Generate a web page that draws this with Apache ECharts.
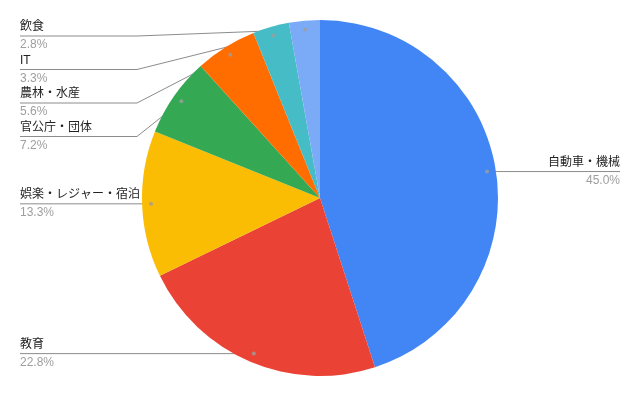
<!DOCTYPE html>
<html>
<head>
<meta charset="utf-8">
<script src="https://cdn.jsdelivr.net/npm/echarts@6/dist/echarts.min.js"></script>
<style>html,body{margin:0;padding:0;background:#fff}#c{width:640px;height:396px}</style>
</head>
<body>
<div id="c"></div>
<script>
const categories = ['自動車・機械', '教育', '娯楽・レジャー・宿泊', '官公庁・団体', '農林・水産', 'IT', '飲食'];
const values = [45.0, 22.8, 13.3, 7.2, 5.6, 3.3, 2.8];
const colors = ['#4285F4', '#EA4335', '#FBBC04', '#34A853', '#FF6D01', '#46BDC6', '#7BAAF7'];

const CX = 320, CY = 198, R = 178, DOT = 0.95;
const LEFT_X = 20, RIGHT_X = 620, BEND_X = 137, SPACING = 33.5, TOP = 36;
const FONT = "'Liberation Sans', Arial, 'Noto Sans CJK JP', sans-serif";

const total = values.reduce((a, b) => a + b, 0);
let cum = 0;
const midPct = values.map(v => { const m = cum + v / 2; cum += v; return m / total * 100; });
const anchors = midPct.map(p => {
  const t = p / 100 * 2 * Math.PI;
  return [CX + DOT * R * Math.sin(t), CY - DOT * R * Math.cos(t)];
});
// vertical placement of label lines
const lineY = anchors.map(a => a[1]);
const leftIdx = anchors.map((a, i) => i).filter(i => anchors[i][0] < CX).sort((a, b) => anchors[a][1] - anchors[b][1]);
let prev = -Infinity;
leftIdx.forEach(i => {
  let y = Math.max(anchors[i][1], prev + SPACING, TOP);
  lineY[i] = y; prev = y;
});

const chart = echarts.init(document.getElementById('c'), null, { renderer: 'canvas' });
chart.setOption({
  animation: false,
  backgroundColor: '#fff',
  polar: { center: [CX, CY], radius: R },
  angleAxis: { type: 'value', min: 0, max: 100, startAngle: 90, clockwise: true, show: false },
  radiusAxis: { type: 'value', min: 0, max: 1, show: false },
  series: [
    {
      type: 'pie',
      center: [CX, CY],
      radius: R,
      startAngle: 90,
      clockwise: true,
      avoidLabelOverlap: false,
      minShowLabelAngle: 0,
      data: categories.map((c, i) => ({ name: c, value: values[i], itemStyle: { color: colors[i] } })),
      itemStyle: { borderWidth: 0 },
      label: {
        show: true,
        position: 'outer',
        fontFamily: FONT,
        formatter: p => '{n|' + p.name + '}\n{p|' + values[p.dataIndex].toFixed(1) + '%}',
        rich: {
          n: { fontSize: 12, color: '#222', lineHeight: 18, fontFamily: FONT },
          p: { fontSize: 12, color: '#9e9e9e', lineHeight: 18, fontFamily: FONT }
        }
      },
      labelLine: { show: true, length: 10, length2: 10, smooth: false, lineStyle: { color: '#8c8c8c', width: 1 } },
      labelLayout: function (params) {
        const i = params.dataIndex;
        const a = anchors[i];
        const y = lineY[i];
        if (a[0] >= CX) {
          return { x: RIGHT_X, y: y, align: 'right', verticalAlign: 'middle',
                   labelLinePoints: [[a[0], a[1]], [a[0], y], [RIGHT_X, y]] };
        }
        const bend = Math.abs(y - a[1]) < 0.5 ? [a[0], y] : [BEND_X, y];
        return { x: LEFT_X, y: y, align: 'left', verticalAlign: 'middle',
                 labelLinePoints: [[a[0], a[1]], bend, [LEFT_X, y]] };
      }
    },
    {
      type: 'scatter',
      coordinateSystem: 'polar',
      symbol: 'circle',
      symbolSize: 4,
      z: 10,
      silent: true,
      itemStyle: { color: '#9e9e9e' },
      data: midPct.map(p => [DOT, p])
    }
  ]
});
</script>
</body>
</html>
